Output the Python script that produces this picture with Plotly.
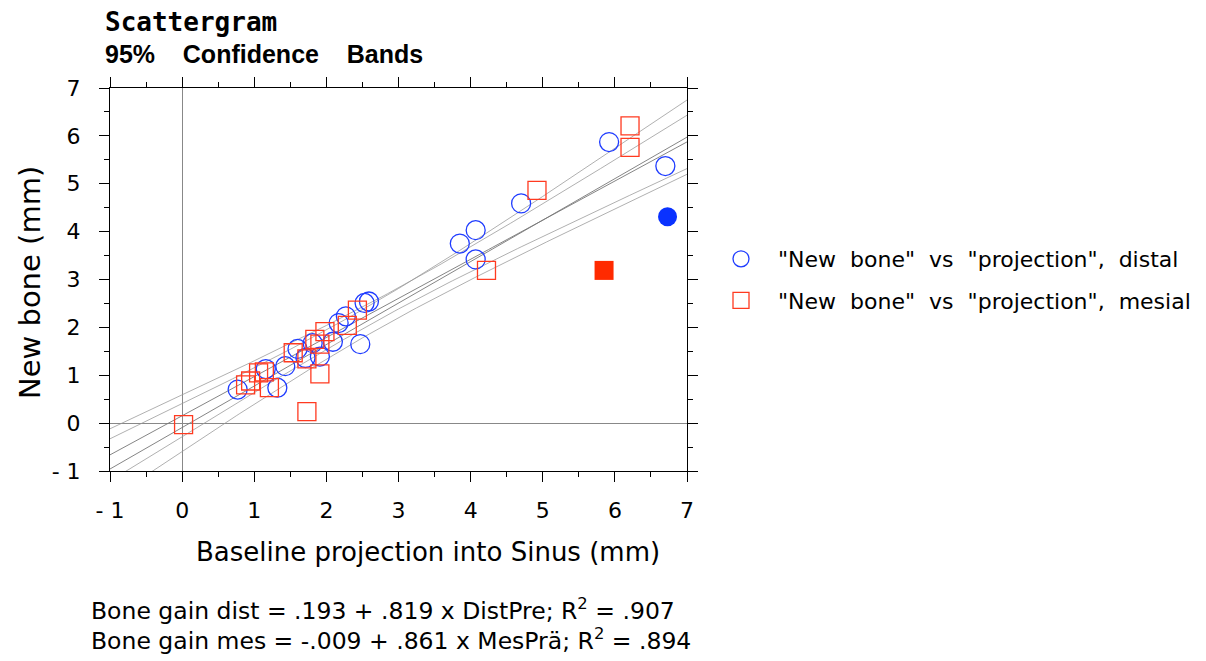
import numpy as np
import plotly.graph_objects as go

# ---------------- data ----------------
dist_x = [0.77, 1.16, 1.32, 1.43, 1.60, 1.71, 1.81, 1.91, 2.09, 2.17,
          2.27, 2.47, 2.53, 2.59, 3.85, 4.07, 4.07, 4.70, 5.92, 6.70]
dist_y = [0.70, 1.13, 0.74, 1.19, 1.55, 1.36, 1.67, 1.39, 1.70, 2.09,
          2.23, 1.65, 2.51, 2.54, 3.75, 4.03, 3.42, 4.59, 5.87, 5.37]
dist_excl_x = [6.73]
dist_excl_y = [4.31]

mes_x = [0.02, 0.88, 0.95, 1.06, 1.14, 1.21, 1.54, 1.73, 1.73, 1.84,
         1.91, 1.91, 1.98, 2.29, 2.43, 4.22, 4.92, 6.21, 6.21]
mes_y = [-0.03, 0.80, 0.88, 1.05, 1.07, 0.74, 1.47, 0.24, 1.34, 1.75,
         1.65, 1.03, 1.91, 2.04, 2.36, 3.19, 4.86, 6.21, 5.76]
mes_excl_x = [5.85]
mes_excl_y = [3.19]

tick_vals = [-1, 0, 1, 2, 3, 4, 5, 6, 7]
tick_text = ["- 1", "0", "1", "2", "3", "4", "5", "6", "7"]

NB = "\u00a0"
legend_dist = '"New bone" vs "projection", distal'
legend_mes = '"New bone" vs "projection", mesial'
eq_dist = "Bone gain dist = .193 + .819 x DistPre; R<sup>2</sup> = .907"
eq_mes = "Bone gain mes = -.009 + .861 x MesPrä; R<sup>2</sup> = .894"

# two-sided 95% Student t quantiles
T975 = {17: 2.110, 18: 2.101, 19: 2.093, 20: 2.086}

BLUE = "#1f3cff"
RED = "#ff3a20"
BAND = "rgba(150,150,150,0.75)"


def fit_band(xs, ys, grid):
    x = np.asarray(xs, float)
    y = np.asarray(ys, float)
    n = len(x)
    b, a = np.polyfit(x, y, 1)
    yhat = a + b * grid
    res = y - (a + b * x)
    s = np.sqrt(np.sum(res ** 2) / (n - 2))
    sxx = np.sum((x - x.mean()) ** 2)
    half = T975[n - 2] * s * np.sqrt(1.0 / n + (grid - x.mean()) ** 2 / sxx)
    return yhat, yhat - half, yhat + half


grid = np.linspace(-1, 7, 161)

fig = go.Figure()

for xs, ys in [(dist_x + dist_excl_x, dist_y + dist_excl_y),
               (mes_x + mes_excl_x, mes_y + mes_excl_y)]:
    yhat, lo, hi = fit_band(xs, ys, grid)
    for curve, col in [(yhat, "rgba(120,120,120,0.9)"), (lo, BAND), (hi, BAND)]:
        fig.add_trace(go.Scatter(x=grid, y=curve, mode="lines",
                                 line=dict(color=col, width=1),
                                 showlegend=False, hoverinfo="skip"))


def spaced(s):
    return s.replace(" ", NB * 2)


fig.add_trace(go.Scatter(x=dist_x, y=dist_y, mode="markers", name=spaced(legend_dist),
                         legendgroup="d",
                         marker=dict(symbol="circle-open", size=19,
                                     line=dict(color=BLUE, width=1.3), color=BLUE)))
fig.add_trace(go.Scatter(x=mes_x, y=mes_y, mode="markers", name=spaced(legend_mes),
                         legendgroup="m",
                         marker=dict(symbol="square-open", size=18,
                                     line=dict(color=RED, width=1.3), color=RED)))
fig.add_trace(go.Scatter(x=dist_excl_x, y=dist_excl_y, mode="markers",
                         showlegend=False,
                         marker=dict(symbol="circle", size=19, color="#0a32ff")))
fig.add_trace(go.Scatter(x=mes_excl_x, y=mes_excl_y, mode="markers",
                         showlegend=False,
                         marker=dict(symbol="square", size=19, color="#ff2a00")))

# plot area in pixels
L, R, T, B = 110, 687, 88, 471
W, H = 1206, 661


def px_x(p):
    return (p - L) / (R - L)


def px_y(p):
    return (B - p) / (B - T)


FONT = "DejaVu Sans"

axis_common = dict(
    range=[-1, 7], tickvals=tick_vals, ticktext=tick_text,
    showline=True, linecolor="black", linewidth=1, mirror="ticks",
    ticks="outside", ticklen=10, tickwidth=1, tickcolor="black",
    minor=dict(ticks="outside", ticklen=5, tickwidth=1, tickcolor="black",
               dtick=0.5, tick0=0),
    showgrid=False, zeroline=True, zerolinecolor="#888888", zerolinewidth=1,
    tickfont=dict(family=FONT, size=22, color="black"),
    automargin=False,
)

fig.update_layout(
    width=W, height=H,
    margin=dict(l=L, r=W - R, t=T, b=H - B, pad=0, autoexpand=False),
    plot_bgcolor="white", paper_bgcolor="white",
    xaxis=dict(**axis_common, ticklabelstandoff=10),
    yaxis=dict(**axis_common, ticklabelstandoff=14),
    showlegend=True,
    legend=dict(x=px_x(704), y=px_y(280), xanchor="left", yanchor="middle",
                font=dict(family=FONT, size=22, color="black"),
                traceorder="grouped", tracegroupgap=10,
                bgcolor="rgba(0,0,0,0)", itemwidth=64),
    font=dict(family=FONT, color="black"),
)

annotations = [
    dict(text="<b>Scattergram</b>", x=px_x(103), y=px_y(22), xanchor="left",
         yanchor="middle", font=dict(family="DejaVu Sans Mono", size=26)),
    dict(text="<b>95%" + NB * 4 + "Confidence" + NB * 4 + "Bands</b>",
         x=px_x(103), y=px_y(54), xanchor="left", yanchor="middle",
         font=dict(family="Liberation Sans", size=25)),
    dict(text="Baseline projection into Sinus (mm)", x=px_x(428), y=px_y(552),
         xanchor="center", yanchor="middle", font=dict(family=FONT, size=26)),
    dict(text="New bone (mm)", x=px_x(30), y=px_y(283), textangle=-90,
         xanchor="center", yanchor="middle", font=dict(family=FONT, size=29)),
    dict(text=eq_dist, x=px_x(89), y=px_y(609), xanchor="left", yanchor="middle",
         font=dict(family=FONT, size=23.5)),
    dict(text=eq_mes, x=px_x(89), y=px_y(639), xanchor="left", yanchor="middle",
         font=dict(family=FONT, size=23.5)),
]
for a in annotations:
    a.update(xref="paper", yref="paper", showarrow=False)
    a["font"]["color"] = "black"
fig.update_layout(annotations=annotations)

fig.write_html("out.html")
